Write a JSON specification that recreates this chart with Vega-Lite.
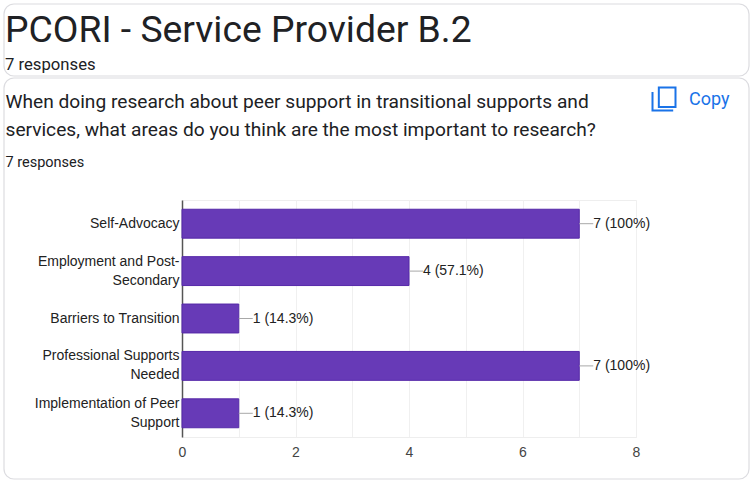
{
"$schema":"https://vega.github.io/schema/vega-lite/v6.json",
"width":454,"height":237,
"autosize":"none",
"padding":{"left":182,"top":200,"right":114,"bottom":46},
"background":"#ffffff",
"config":{"view":{"stroke":"#eeeeee"}},
"title":{"text":"PCORI - Service Provider B.2","subtitle":"7 responses","anchor":"start","frame":"group","dx":-177,"offset":-71,"font":"Roboto","fontSize":37.3,"fontWeight":"normal","color":"#202124","subtitleFont":"Roboto","subtitleFontSize":16.7,"subtitleColor":"#202124","subtitlePadding":6},
"data":{"values":[
{"area":"Self-Advocacy","responses":7,"label":"7 (100%)"},
{"area":"Employment and Post-\nSecondary","responses":4,"label":"4 (57.1%)"},
{"area":"Barriers to Transition","responses":1,"label":"1 (14.3%)"},
{"area":"Professional Supports\nNeeded","responses":7,"label":"7 (100%)"},
{"area":"Implementation of Peer\nSupport","responses":1,"label":"1 (14.3%)"}
]},
"encoding":{
"y":{"field":"area","type":"nominal","sort":null,"scale":{"paddingInner":0.39,"paddingOuter":0.195},
"axis":{"title":["When doing research about peer support in transitional supports and","services, what areas do you think are the most important to research?"],"titleX":-177,"titleY":-93,"titleAngle":0,"titleAlign":"left","titleBaseline":"alphabetic","titleFont":"Roboto","titleFontSize":19.15,"titleFontWeight":"normal","titleColor":"#202124","titleLineHeight":28,
"labelExpr":"split(datum.label,'\\n')","labelFont":"Liberation Sans","labelFontSize":14,"labelColor":"#222222","labelLineHeight":19,"labelPadding":3,"labelLimit":170,"labelOffset":{"condition":{"test":"indexof(datum.value,'\\n')>=0","value":-9.5},"value":0},"ticks":false,"domainColor":"#555555","domainWidth":1.5,"grid":false}},
"x":{"field":"responses","type":"quantitative","scale":{"domain":[0,8]},
"axis":{"title":"7 responses","titleX":-177,"titleY":-271,"titleAlign":"left","titleAnchor":"start","titleBaseline":"alphabetic","titleFont":"Roboto","titleFontSize":14.5,"titleFontWeight":"normal","titleColor":"#202124",
"values":[0,1,2,3,4,5,6,7,8],"labelExpr":"datum.value%2==0?datum.label:''","labelFont":"Liberation Sans","labelFontSize":14,"labelColor":"#444444","labelPadding":8,"labelFlush":false,"ticks":false,"domainColor":"#eeeeee","grid":true,"gridColor":"#f0f0f0","gridWidth":1}}
},
"layer":[
{"mark":{"type":"bar","fill":"#673ab7","stroke":"#5528a8","strokeWidth":1}},
{"mark":{"type":"rule","stroke":"#a8a8a8","strokeWidth":1,"x2Offset":14},"encoding":{"x2":{"field":"responses"}}},
{"mark":{"type":"text","align":"left","baseline":"middle","dx":14,"font":"Liberation Sans","fontSize":14,"fill":"#222222"},"encoding":{"text":{"field":"label"}}},
{"data":{"values":[{"card":"header"}]},"mark":{"type":"rect","fill":null,"stroke":"#dcdce0","strokeWidth":1.2,"cornerRadius":10},"encoding":{"x":{"value":-178},"x2":{"value":567},"y":{"value":-196},"y2":{"value":-124}}},
{"data":{"values":[{"card":"question"}]},"mark":{"type":"rect","fill":null,"stroke":"#dcdce0","strokeWidth":1.2,"cornerRadius":10},"encoding":{"x":{"value":-178},"x2":{"value":567},"y":{"value":-122},"y2":{"value":279}}},
{"data":{"values":[{"action":"Copy"}]},"mark":{"type":"text","align":"left","baseline":"middle","font":"Roboto","fontSize":18,"fill":"#1a73e8"},"encoding":{"text":{"field":"action"},"x":{"value":507},"y":{"value":-100}}},
{"data":{"values":[{"action":"Copy icon"}]},"mark":{"type":"point","shape":"M-0.45,-1L1,-1L1,0.7L-0.45,0.7ZM-1,-0.6L-1,1L0.8,1","size":529,"filled":false,"stroke":"#1a73e8","strokeWidth":2,"opacity":1},"encoding":{"x":{"value":482},"y":{"value":-101}}}
]
}
